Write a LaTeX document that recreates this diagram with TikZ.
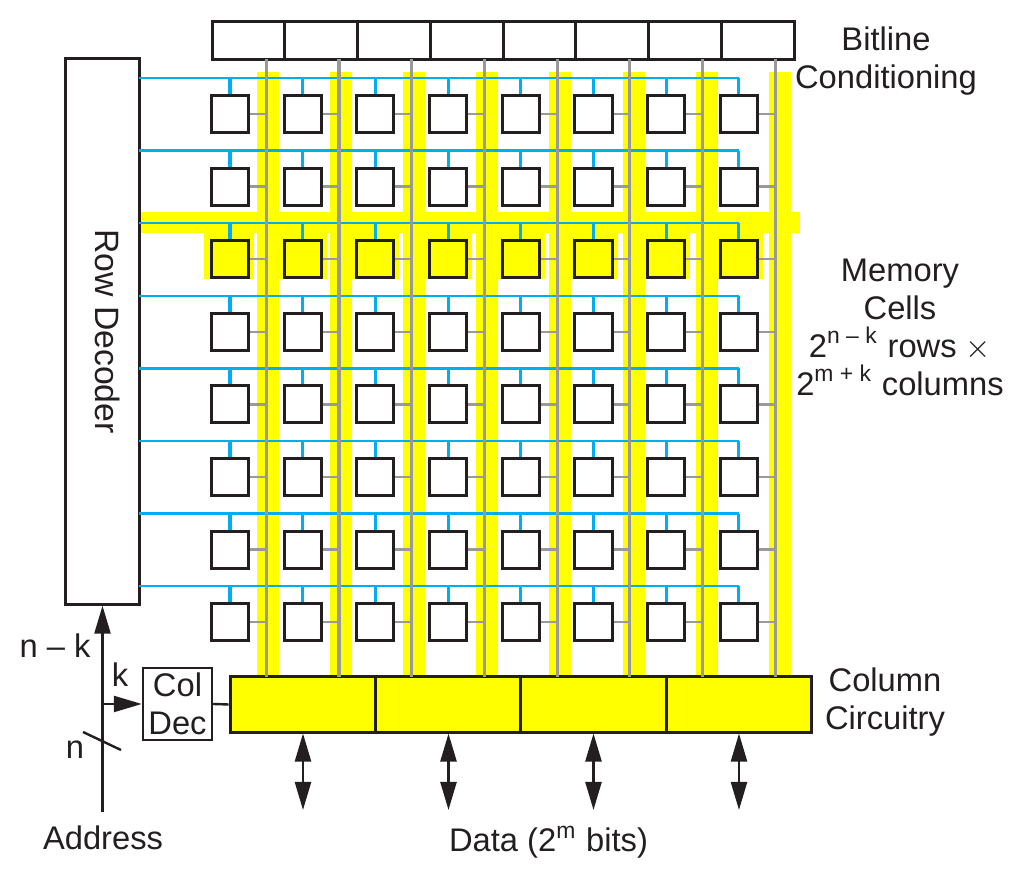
\documentclass[tikz,border=0pt]{standalone}
\usepackage{fontspec}
\setmainfont{Liberation Sans}
\usetikzlibrary{arrows.meta}
\definecolor{darkline}{HTML}{231F20}
\definecolor{wordblue}{HTML}{00AEEF}
\definecolor{bitgray}{HTML}{999999}
\definecolor{hiyellow}{HTML}{FFFF00}
\tikzset{
	boxline/.style={draw=darkline, line width=0.03cm, inner sep=0pt},
	cellbox/.style={boxline, minimum width=0.37cm, minimum height=0.37cm},
	condbox/.style={boxline, minimum width=0.727cm, minimum height=0.37cm},
	colbox/.style={boxline, fill=hiyellow, minimum width=1.455cm, minimum height=0.55cm},
	wordline/.style={draw=wordblue, line width=0.024cm},
	wordstub/.style={draw=wordblue, line width=0.028cm},
	bitline/.style={draw=bitgray, line width=0.03cm},
	bitstub/.style={draw=bitgray, line width=0.024cm},
	signal/.style={draw=darkline, line width=0.024cm},
	bigtip/.style={-{Triangle[length=0.28cm,width=0.16cm]}},
	bothtip/.style={{Triangle[length=0.28cm,width=0.16cm]}-{Triangle[length=0.28cm,width=0.16cm]}},
	label/.style={align=center, inner sep=0pt, text=darkline, font=\fontsize{9.3}{10.8}\selectfont},
}
\begin{document}
\begin{tikzpicture}[x=0.01cm, y=-0.01cm]
	\useasboundingbox (0,0) rectangle (1023,882);
	% selected word line and bit lines
	\fill[hiyellow] (141,212) rectangle (800,233);
	\foreach \cl in {1,...,8} {
		\pgfmathsetmacro{\yl}{257+73.1*(\cl-1)}
		\fill[hiyellow] (\yl,72) rectangle (\yl+22,677);
	}
	\fill[hiyellow] (204,233) rectangle (254,279);
	\foreach \cl in {2,...,8} {
		\pgfmathsetmacro{\yl}{257+73.1*(\cl-2)+22}
		\pgfmathsetmacro{\yr}{254+72.7*(\cl-1)}
		\fill[hiyellow] (\yl,233) rectangle (\yr,279);
	}
	% row decoder and bitline conditioning
	\node[boxline, rotate=-90, minimum width=5.45cm, minimum height=0.73cm, label, draw=darkline, line width=0.03cm] (rowdec) at (102.5,331.5) {\fontsize{9.6}{10.8}\selectfont\raisebox{0.1cm}{Row Decoder}};
	\foreach \cl in {1,...,8} {
		\pgfmathsetmacro{\xb}{248.5+72.75*(\cl-1)}
		\node[condbox] (cond\cl) at (\xb,40.5) {};
	}
	% column circuitry
	\foreach \i/\xb in {1/303,2/448.5,3/593.5,4/739} {
		\node[colbox] (colc\i) at (\xb,704.5) {};
		\coordinate (data\i) at (\xb,810);
		\draw[signal, bothtip] (colc\i.south) -- (data\i);
	}
	% cell array
	\foreach \rw in {1,...,8} {
		\pgfmathsetmacro{\ywl}{78+72.6*(\rw-1)}
		\coordinate (wl\rw) at (139,\ywl);
		\foreach \cl in {1,...,8} {
			\pgfmathsetmacro{\xc}{230+72.7*(\cl-1)}
			\pgfmathsetmacro{\yc}{114+72.6*(\rw-1)}
			\node[cellbox] (cell-\rw-\cl) at (\xc,\yc) {};
		}
		\draw[wordline] (wl\rw) -- (cell-\rw-8.north |- wl\rw);
		\draw[wordstub, line width=0.04cm] (wl\rw -| cell-\rw-1.north) -- (cell-\rw-1.north);
		\foreach \cl in {2,...,8} {
			\draw[wordstub] (wl\rw -| cell-\rw-\cl.north) -- (cell-\rw-\cl.north);
		}
	}
	\foreach \cl in {1,...,8} {
		\pgfmathsetmacro{\xb}{266.3+72.7*(\cl-1)}
		\coordinate (bltop\cl) at (\xb,59);
		\coordinate (blbot\cl) at (\xb,677);
		\draw[bitline] (bltop\cl) -- (blbot\cl);
		\foreach \rw in {1,...,8} {
			\draw[bitstub] (cell-\rw-\cl.east) -- (cell-\rw-\cl.east -| bltop\cl);
		}
	}
	% address path
	\node[boxline, line width=0.024cm, minimum width=0.69cm, minimum height=0.72cm, label] (coldec) at (177.5,704) {Col\\Dec};
	\draw[signal] (coldec.east) -- (colc1.west);
	\node[label] (address) at (103,838) {Address};
	\coordinate (addrend) at (102.5,812);
	\coordinate (ktap) at (102.5,704);
	\coordinate (slasha) at (83,732);
	\coordinate (slashb) at (121,750);
	\draw[signal, bigtip] (addrend) -- (rowdec.east);
	\draw[signal, bigtip] (ktap) -- (coldec.west);
	\draw[signal] (slasha) -- (slashb);
	% labels
	\node[label] (nk) at (55,646) {n -- k};
	\node[label] (klabel) at (120,675) {k};
	\node[label] (nlabel) at (75,750) {n};
	\node[label] (datalabel) at (548.5,842) {Data (2\textsuperscript{m} bits)};
	\node[label] (bitcond) at (886,61.5) {Bitline\\Conditioning};
	\node[label] (memcells) at (900,327) {Memory\\Cells\\2\textsuperscript{n -- k} rows $\times$\\2\textsuperscript{m + k} columns};
	\node[label] (colcirc) at (885,702) {Column\\Circuitry};
\end{tikzpicture}
\end{document}
